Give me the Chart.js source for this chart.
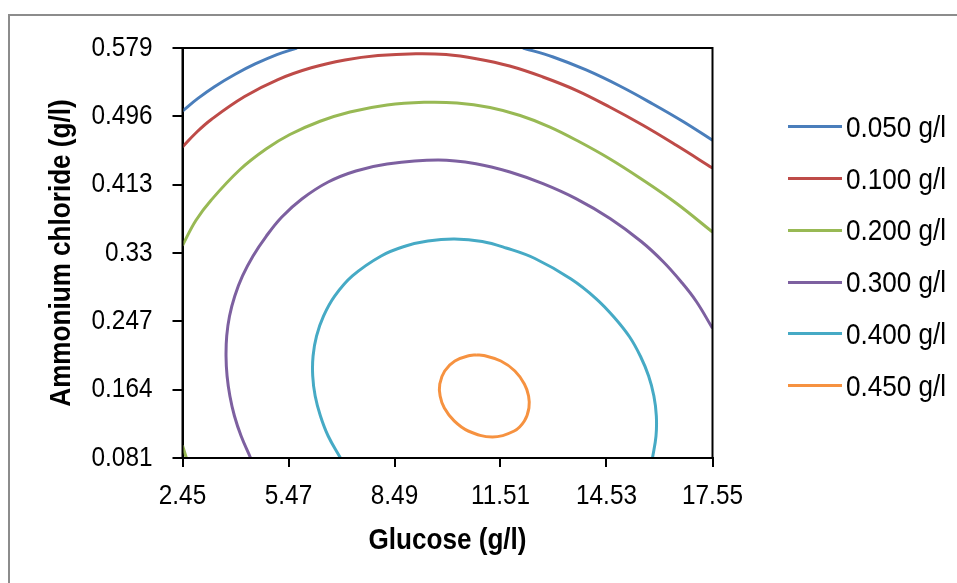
<!DOCTYPE html>
<html>
<head>
<meta charset="utf-8">
<title>Contour plot</title>
<script src="https://cdn.jsdelivr.net/npm/chart.js@4.4.1/dist/chart.umd.min.js"></script>
<style>
  html, body { margin: 0; padding: 0; background: #fff; }
  body { width: 957px; height: 583px; overflow: hidden; position: relative;
         font-family: 'Liberation Sans', Arial, sans-serif; }
  #frame { position: absolute; left: 8px; top: 14px; width: 1000px; height: 700px;
           border: 2px solid #8c8c8c; box-sizing: border-box; }
  #wrap { position: absolute; left: 0; top: 0; width: 957px; height: 583px; }
  #legend { position: absolute; left: 788px; top: 0; }
  .item { position: absolute; left: 0; display: flex; align-items: center; height: 30px; white-space: nowrap; }
  .item .ln { width: 54px; height: 3px; margin-right: 4px; flex: none; }
  .item span { font-size: 30px; line-height: 30px; color: #000;
               display: inline-block; transform: scaleX(0.87); transform-origin: left center; }
</style>
</head>
<body>
<div id="frame"></div>
<div id="wrap"><canvas id="c" width="957" height="583"></canvas></div>
<div id="legend"></div>
<script>
// Axis ticks
const xTicks = [2.45, 5.47, 8.49, 11.51, 14.53, 17.55];
const xTickLabels = ['2.45', '5.47', '8.49', '11.51', '14.53', '17.55'];
const yTicks = [0.081, 0.164, 0.247, 0.33, 0.413, 0.496, 0.579];
const yTickLabels = ['0.081', '0.164', '0.247', '0.33', '0.413', '0.496', '0.579'];

// Contour levels (legend entries)
const levels = ['0.050 g/l', '0.100 g/l', '0.200 g/l', '0.300 g/l', '0.400 g/l', '0.450 g/l'];

// 0.050 g/l contour: left and right arcs
const c050aX = [2.45, 2.89, 3.36, 3.95, 4.52, 5.14, 5.71];
const c050aY = [0.5025, 0.5178, 0.5320, 0.5471, 0.5596, 0.5710, 0.579];
const c050bX = [12.15, 13.01, 13.95, 14.91, 15.85, 16.71, 17.55];
const c050bY = [0.579, 0.5681, 0.5523, 0.5328, 0.5110, 0.4897, 0.4669];

// 0.100 g/l contour
const c100X = [2.45, 2.83, 3.27, 4.22, 5.17, 6.12, 7.08, 8.02, 9.10, 9.96, 10.82, 11.77, 12.72, 13.67, 14.62, 15.57, 16.52, 17.55];
const c100Y = [0.4588, 0.4758, 0.4922, 0.5201, 0.5407, 0.5550, 0.5644, 0.5698, 0.5721, 0.5711, 0.5660, 0.5571, 0.5438, 0.5276, 0.5073, 0.4851, 0.4608, 0.4332];

// 0.200 g/l contour: main arc and the small corner piece
const c200aX = [2.45, 2.83, 3.27, 4.09, 4.83, 5.51, 6.37, 7.22, 8.28, 9.33, 10.27, 11.21, 12.07, 12.92, 13.77, 14.63, 15.48, 16.51, 17.55];
const c200aY = [0.3391, 0.3695, 0.3944, 0.4314, 0.4563, 0.4739, 0.4900, 0.5013, 0.5098, 0.5130, 0.5122, 0.5067, 0.4970, 0.4830, 0.4648, 0.4442, 0.4211, 0.3907, 0.3555];
const c200bX = [2.45, 2.56];
const c200bY = [0.0962, 0.081];

// 0.300 g/l contour
const c300X = [4.39, 4.12, 3.93, 3.80, 3.72, 3.69, 3.71, 3.79, 3.94, 4.16, 4.46, 4.83, 5.28, 5.85, 6.60, 7.39, 8.28, 9.73, 10.81, 11.78, 12.72, 13.66, 14.63, 15.52, 16.14, 16.65, 17.09, 17.55];
const c300Y = [0.081, 0.1077, 0.1320, 0.1563, 0.1806, 0.2049, 0.2292, 0.2535, 0.2778, 0.3021, 0.3264, 0.3500, 0.3737, 0.3956, 0.4162, 0.4296, 0.4381, 0.4430, 0.4385, 0.4284, 0.4142, 0.3960, 0.3719, 0.3440, 0.3197, 0.2954, 0.2711, 0.2385];

// 0.400 g/l contour
const c400X = [6.95, 6.60, 6.38, 6.23, 6.16, 6.17, 6.27, 6.47, 6.79, 7.29, 8.11, 8.81, 9.44, 10.20, 10.99, 11.67, 12.49, 13.52, 14.23, 14.74, 15.19, 15.50, 15.73, 15.88, 15.95, 15.94, 15.84];
const c400Y = [0.081, 0.1077, 0.1320, 0.1563, 0.1806, 0.2049, 0.2292, 0.2535, 0.2778, 0.3021, 0.3264, 0.3385, 0.3446, 0.3470, 0.3440, 0.3361, 0.3233, 0.2984, 0.2747, 0.2523, 0.2280, 0.2043, 0.1806, 0.1563, 0.1320, 0.1077, 0.081];

// 0.450 g/l contour (closed loop)
const c450X = [10.83, 11.03, 11.52, 11.92, 12.19, 12.31, 12.32, 12.19, 11.90, 11.28, 10.59, 10.19, 9.91, 9.79, 9.78, 9.92, 10.21, 10.64, 10.83];
const c450Y = [0.2061, 0.2055, 0.1988, 0.1867, 0.1709, 0.1563, 0.1417, 0.1260, 0.1138, 0.1065, 0.1138, 0.1260, 0.1417, 0.1563, 0.1709, 0.1867, 0.1988, 0.2055, 0.2061];

const lineColors = ['#4a7ebb', '#be4b48', '#98b954', '#7d60a0', '#46aac5', '#f69240'];
const FONT = "'Liberation Sans', Arial, sans-serif";
const NARROW = 0.87; // horizontal squeeze that gives the condensed lettering

const segments = [
  { level: 0, xs: c050aX, ys: c050aY },
  { level: 0, xs: c050bX, ys: c050bY },
  { level: 1, xs: c100X, ys: c100Y },
  { level: 2, xs: c200aX, ys: c200aY },
  { level: 2, xs: c200bX, ys: c200bY },
  { level: 3, xs: c300X, ys: c300Y },
  { level: 4, xs: c400X, ys: c400Y },
  { level: 5, xs: c450X, ys: c450Y }
];

const datasets = segments.map(s => ({
  label: levels[s.level],
  data: s.xs.map((x, i) => ({ x: x, y: s.ys[i] })),
  borderColor: lineColors[s.level],
  backgroundColor: lineColors[s.level],
  borderWidth: 3,
  showLine: true,
  pointRadius: 0,
  pointHoverRadius: 0,
  tension: 0.4,
  fill: false
}));

// Condensed text: squeeze every label horizontally around its anchor point
const canvas = document.getElementById('c');
const ctx2d = canvas.getContext('2d');
const baseFillText = ctx2d.fillText.bind(ctx2d);
ctx2d.fillText = function (text, x, y) {
  this.save();
  this.translate(x, y);
  this.scale(NARROW, 1);
  baseFillText(text, 0, 0);
  this.restore();
};

// Black box around the plotting area
const plotFrame = {
  id: 'plotFrame',
  afterDraw(chart) {
    const { ctx, chartArea: a } = chart;
    ctx.save();
    ctx.strokeStyle = '#000';
    ctx.lineWidth = 2;
    ctx.strokeRect(a.left, a.top, a.right - a.left, a.bottom - a.top);
    ctx.restore();
  }
};

new Chart(ctx2d, {
  type: 'scatter',
  data: { datasets: datasets },
  plugins: [plotFrame],
  options: {
    responsive: false,
    animation: false,
    devicePixelRatio: 1,
    layout: { padding: { top: 48, right: 244.5, bottom: 0, left: 0 } },
    plugins: { legend: { display: false }, tooltip: { enabled: false } },
    scales: {
      x: {
        type: 'linear', position: 'bottom', min: 2.45, max: 17.55,
        afterBuildTicks: s => { s.ticks = xTicks.map(v => ({ value: v })); },
        afterFit: s => { s.height = 125; },
        ticks: {
          callback: (v, i) => xTickLabels[i],
          font: { size: 28, family: FONT }, color: '#000',
          padding: 12, maxRotation: 0, autoSkip: false
        },
        grid: { display: true, drawOnChartArea: false, drawTicks: true, tickLength: 9, color: '#000', lineWidth: 2 },
        border: { display: true, color: '#000', width: 2 },
        title: { display: true, text: 'Glucose (g/l)', color: '#000',
                 font: { size: 30, weight: 'bold', family: FONT }, padding: { top: 0, bottom: 24 } }
      },
      y: {
        type: 'linear', position: 'left', min: 0.081, max: 0.579,
        afterBuildTicks: s => { s.ticks = yTicks.map(v => ({ value: v })); },
        afterFit: s => { s.width = 182.5; },
        ticks: {
          callback: (v, i) => yTickLabels[i],
          font: { size: 28, family: FONT }, color: '#000',
          padding: 20, autoSkip: false
        },
        grid: { display: true, drawOnChartArea: false, drawTicks: true, tickLength: 10, color: '#000', lineWidth: 2 },
        border: { display: true, color: '#000', width: 2 },
        title: { display: true, text: 'Ammonium chloride (g/l)', color: '#000',
                 font: { size: 30, weight: 'bold', family: FONT }, padding: { top: 44, bottom: 0 } }
      }
    }
  }
});

// Legend: one line sample per contour level
const legend = document.getElementById('legend');
levels.forEach((name, i) => {
  const row = document.createElement('div');
  row.className = 'item';
  row.style.top = (126.7 + 51.8 * i - 15) + 'px';
  const ln = document.createElement('div');
  ln.className = 'ln';
  ln.style.background = lineColors[i];
  const tx = document.createElement('span');
  tx.textContent = name;
  row.appendChild(ln);
  row.appendChild(tx);
  legend.appendChild(row);
});
</script>
</body>
</html>
